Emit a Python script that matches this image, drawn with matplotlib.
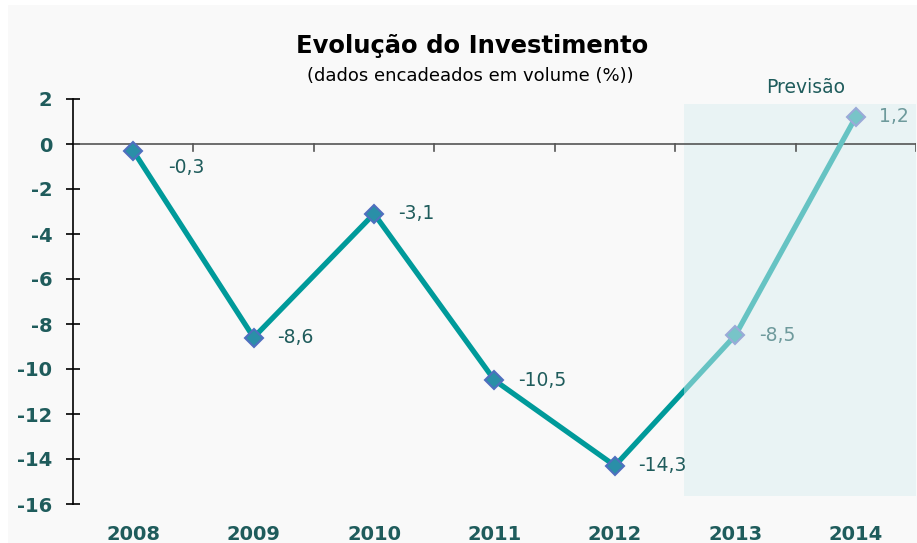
import numpy as np
import matplotlib.pyplot as plt
from matplotlib.patches import Rectangle

# Data
years = ["2008", "2009", "2010", "2011", "2012", "2013", "2014"]
values = [-0.3, -8.6, -3.1, -10.5, -14.3, -8.5, 1.2]
labels = ["-0,3", "-8,6", "-3,1", "-10,5", "-14,3", "-8,5", "1,2"]
forecast = [False, False, False, False, False, True, True]
yticks = [2, 0, -2, -4, -6, -8, -10, -12, -14, -16]

DARK = "#009a9a"
LIGHT = "#66c3c3"
TXT = "#1f5c5c"
TXT_LIGHT = "#6e9a9c"

fig = plt.figure(figsize=(9.17, 5.43), dpi=100, facecolor="white")
fig.patches.append(Rectangle((8 / 917, 0), 1, 1 - 5 / 543, transform=fig.transFigure,
                             facecolor="#f9f9f9", edgecolor="none", zorder=-10))

ax = fig.add_axes([73 / 917, 1 - 504 / 543, (916 - 73) / 917, (504 - 99) / 543])
ax.set_facecolor("none")
x = np.arange(len(years))
ax.set_xlim(-0.5, len(years) - 0.5)
ax.set_ylim(-16, 2)

# forecast shading
split = 4.57
shade = Rectangle((split, -15.65), len(years) - 0.5 - split, 15.65 + 1.78,
                  facecolor="#e9f3f4", edgecolor="none", zorder=1)
ax.add_patch(shade)
ax.text(5.58, 2.5, "Previsão", color=TXT, fontsize=13.5, ha="center", va="center",
        clip_on=False)

# zero line with category ticks
ax.axhline(0, color="#555555", lw=1.2, zorder=2)
for b in np.arange(0.5, len(years), 1.0):
    ax.plot([b, b], [0, -0.32], color="#555555", lw=1.2, zorder=2)

# line, split in colour at the forecast boundary
ln_dark, = ax.plot(x, values, color=DARK, lw=3.8, zorder=3, solid_capstyle="butt")
ln_dark.set_clip_path(Rectangle((-0.5, -20), split + 0.5, 30, transform=ax.transData))
ln_light, = ax.plot(x, values, color=LIGHT, lw=3.8, zorder=3, solid_capstyle="butt")
ln_light.set_clip_path(Rectangle((split, -20), 5, 30, transform=ax.transData))

for xi, v, lab, fc in zip(x, values, labels, forecast):
    if fc:
        ax.plot(xi, v, marker="D", ms=9, mfc="#78c4c8", mec="#9aaad8", mew=1.5, zorder=4)
    else:
        ax.plot(xi, v, marker="D", ms=9, mfc="#2a8fa8", mec="#4f6fbf", mew=1.5, zorder=4)
    off = (25, -12) if xi == 0 else (17, 0)
    ax.annotate(lab, (xi, v), xytext=off, textcoords="offset points",
                ha="left", va="center", fontsize=13.5,
                color=TXT_LIGHT if fc else TXT, zorder=5)

# axes styling
for s in ["top", "right", "bottom"]:
    ax.spines[s].set_visible(False)
ax.spines["left"].set_color("black")
ax.spines["left"].set_linewidth(1.2)
ax.set_yticks(yticks)
ax.set_yticklabels([str(t) for t in yticks])
ax.tick_params(axis="y", direction="inout", length=10, width=1.2, pad=10,
               labelsize=14, labelcolor=TXT)
ax.set_xticks(x)
ax.set_xticklabels(years)
ax.tick_params(axis="x", length=0, pad=15, labelsize=14, labelcolor=TXT)
for t in ax.get_xticklabels() + ax.get_yticklabels():
    t.set_fontweight("bold")

fig.text(472 / 917, 1 - 46 / 543, "Evolução do Investimento", ha="center", va="center",
         fontsize=17.5, fontweight="bold", color="black")
fig.text(470 / 917, 1 - 76 / 543, "(dados encadeados em volume (%))", ha="center",
         va="center", fontsize=13, color="black")

fig.savefig("out.png", dpi=100, facecolor=fig.get_facecolor())
